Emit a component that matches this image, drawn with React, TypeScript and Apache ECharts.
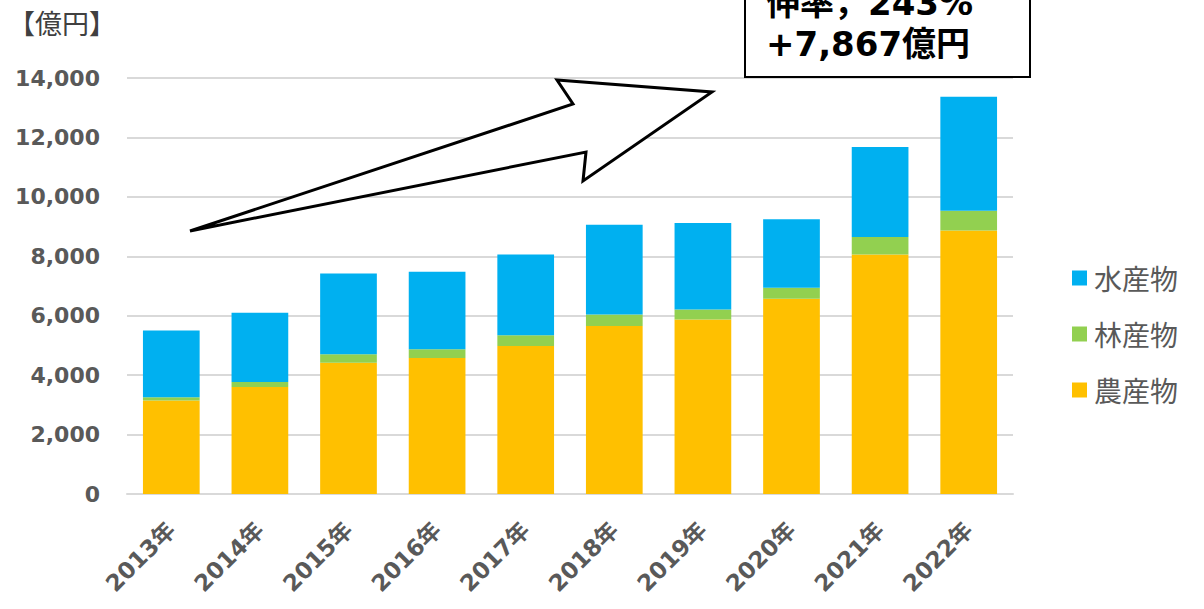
import React, { useEffect, useRef } from "react";
import * as echarts from "echarts";

const years = ["2013年", "2014年", "2015年", "2016年", "2017年", "2018年", "2019年", "2020年", "2021年", "2022年"];
const agri = [3150, 3600, 4420, 4580, 4980, 5650, 5870, 6570, 8060, 8870];
const forest = [110, 170, 280, 290, 360, 390, 340, 370, 590, 660];
const fish = [2240, 2330, 2720, 2610, 2720, 3020, 2910, 2310, 3030, 3837];
const seriesNames = ["水産物", "林産物", "農産物"];
const unitLabel = "【億円】";
const noteLine1 = "伸率，243%";
const noteLine2 = "+7,867億円";

const CJK = "'Noto Sans CJK JP', 'Noto Sans', sans-serif";
const NUM = "'DejaVu Sans', 'Noto Sans CJK JP', sans-serif";

export default function App() {
  const ref = useRef<HTMLDivElement>(null);
  useEffect(() => {
    if (!ref.current) return;
    const chart = echarts.init(ref.current, null, { renderer: "svg" });
    chart.setOption({
      animation: false,
      textStyle: { fontFamily: CJK },
      grid: { left: 127, right: 191, top: 78, bottom: 115, containLabel: false },
      legend: {
        data: seriesNames,
        orient: "vertical",
        left: 1067,
        top: 259,
        itemWidth: 15,
        itemHeight: 15,
        itemGap: 28,
        icon: "rect",
        textStyle: { fontSize: 28, color: "#595959", fontFamily: CJK, padding: [0, 0, 0, 2] },
      },
      xAxis: {
        type: "category",
        data: years,
        axisLine: { lineStyle: { color: "#D9D9D9", width: 2 } },
        axisTick: { show: false },
        axisLabel: {
          rotate: 45,
          interval: 0,
          fontSize: 23,
          fontWeight: "bold",
          color: "#595959",
          margin: 32,
          fontFamily: NUM,
        },
      },
      yAxis: {
        type: "value",
        min: 0,
        max: 14000,
        interval: 2000,
        axisLine: { show: false },
        axisTick: { show: false },
        splitLine: { lineStyle: { color: "#D9D9D9", width: 2 } },
        axisLabel: {
          fontSize: 22,
          fontWeight: "bold",
          color: "#595959",
          margin: 27,
          fontFamily: NUM,
          formatter: (v: number) => v.toLocaleString("en-US"),
        },
      },
      series: [
        { name: "農産物", type: "bar", stack: "t", data: agri, barWidth: "64%", itemStyle: { color: "#FFC000" } },
        { name: "林産物", type: "bar", stack: "t", data: forest, itemStyle: { color: "#92D050" } },
        { name: "水産物", type: "bar", stack: "t", data: fish, itemStyle: { color: "#00B0F0" } },
      ],
      graphic: [
        {
          type: "text",
          x: 8,
          y: 22,
          style: { text: unitLabel, fontSize: 27, fill: "#404040", fontFamily: CJK, textVerticalAlign: "middle" },
        },
        {
          type: "polygon",
          shape: {
            points: [
              [190, 231],
              [573, 104],
              [557, 80],
              [712, 92],
              [583, 181],
              [586, 152],
            ],
          },
          style: { fill: "#FFFFFF", stroke: "#000000", lineWidth: 3, lineJoin: "miter" },
          z: 10,
        },
        {
          type: "rect",
          shape: { x: 745, y: -10, width: 285, height: 87 },
          style: { fill: "#FFFFFF", stroke: "#000000", lineWidth: 2 },
          z: 10,
        },
        {
          type: "text",
          x: 766,
          y: 3,
          style: { text: noteLine1, fontSize: 34, fontWeight: "bold", fill: "#000000", fontFamily: NUM, textVerticalAlign: "middle" },
          z: 11,
        },
        {
          type: "text",
          x: 766,
          y: 44,
          style: { text: noteLine2, fontSize: 34, fontWeight: "bold", fill: "#000000", fontFamily: NUM, textVerticalAlign: "middle" },
          z: 11,
        },
      ],
    });
    return () => chart.dispose();
  }, []);
  return <div ref={ref} style={{ position: "fixed", left: 0, top: 0, width: 1204, height: 609, background: "#fff" }} />;
}
